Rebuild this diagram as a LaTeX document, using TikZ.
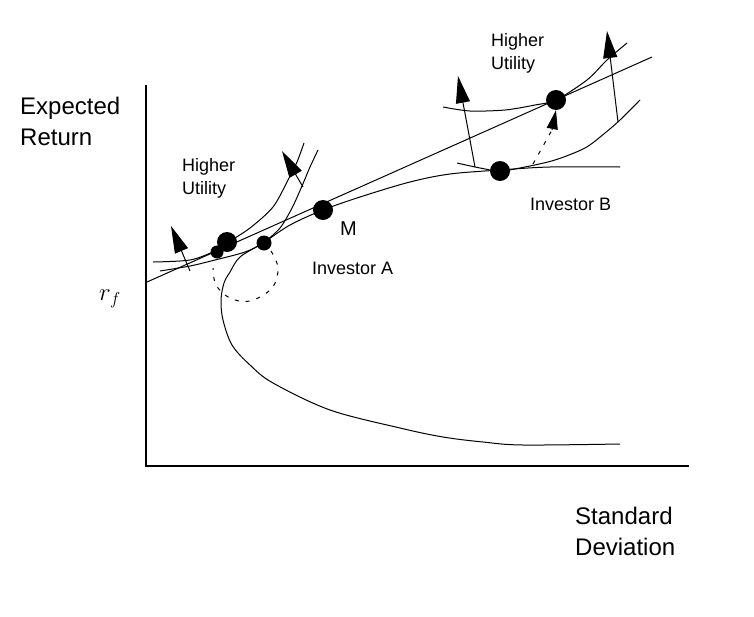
\documentclass[tikz,border=0pt]{standalone}
\usepackage{fontspec}
\setmainfont{Liberation Sans}
\usetikzlibrary{arrows.meta}

\begin{document}
\begin{tikzpicture}[x=1pt, y=-1pt,
  curve/.style={line width=1pt, line join=round},
  axis/.style={line width=2pt},
  bigdot/.style={circle, fill=black, inner sep=0pt, minimum size=20pt},
  meddot/.style={circle, fill=black, inner sep=0pt, minimum size=15pt},
  smalldot/.style={circle, fill=black, inner sep=0pt, minimum size=13pt},
  utilarrow/.style={line width=1pt, -{Triangle[length=27pt, width=14pt]}},
  lbl/.style={inner sep=0pt, anchor=north west, align=left}]
  \path[use as bounding box, fill=white] (0,0) rectangle (754,616);

  % Axes
  \coordinate (ytop) at (146,85);
  \coordinate (orig) at (146,466);
  \coordinate (xend) at (689,466);
  \draw[axis] (ytop) -- (orig) -- (xend);
  \node[lbl, font=\fontsize{24}{31}\selectfont] (ylab) at (20,97) {Expected\\Return};
  \node[lbl, font=\fontsize{24}{31}\selectfont] (xlab) at (575,507) {Standard\\Deviation};
  \node[font=\fontsize{27}{27}\selectfont] (rflab) at (110,299) {$r_f$};

  % Capital market line
  \coordinate (rf) at (147,282);
  \coordinate (cmlend) at (652,57);
  \draw[curve] (rf) -- (cmlend);

  % Efficient frontier
  \draw[curve] plot[smooth, tension=0.55] coordinates {
    (620,444) (523,445) (483,442) (443,437) (400,428) (330,410) (273,383)
    (250,365) (232,345) (223,320) (221,300) (224,283) (230,272) (240,257)
    (263,243) (290,225) (323,210) (360,197) (410,182) (450,174) (500,170)
    (550,167) (620,167)};

  % Investor A
  \draw[curve] plot[smooth, tension=0.5] coordinates {
    (153,262) (190,260) (215,251) (227,243) (250,228) (273,207) (288,180)
    (297,162) (304,143)};
  \draw[curve] plot[smooth, tension=0.5] coordinates {
    (160,271) (190,266) (215,260) (245,252) (263,243) (280,228) (292,208)
    (302,186) (310,167) (318,150)};
  \node[bigdot] (A) at (227,242) {};
  \node[smalldot] (A0) at (217,252) {};
  \node[meddot] (FA) at (264,243) {};
  \draw[curve, dash pattern=on 4pt off 7pt] plot[smooth, tension=0.6] coordinates {
    (271,251) (278,268) (272,288) (250,301) (230,298) (216,285) (213,268)};
  \coordinate (a1base) at (190,271);
  \coordinate (a1tip) at (171,226);
  \coordinate (a2base) at (303,187);
  \coordinate (a2tip) at (282,151);
  \draw[utilarrow] (a1base) -- (a1tip);
  \draw[utilarrow] (a2base) -- (a2tip);
  \node[lbl, font=\fontsize{18}{23}\selectfont] (hua) at (182,158) {Higher\\Utility};
  \node[lbl, font=\fontsize{18}{18}\selectfont] (ia) at (312,262) {Investor A};

  % Market portfolio
  \node[bigdot] (M) at (323,210) {};
  \node[lbl, font=\fontsize{20}{20}\selectfont] (mlab) at (340,222) {M};

  % Investor B
  \draw[curve] plot[smooth, tension=0.5] coordinates {
    (443,107) (470,111) (505,110) (535,105) (556,100) (587,80) (607,60) (627,43)};
  \draw[curve] plot[smooth, tension=0.5] coordinates {
    (457,163) (480,168) (500,171) (525,167) (555,160) (585,148) (605,133)
    (620,120) (640,100)};
  \node[bigdot] (B) at (500,171) {};
  \node[bigdot] (BT) at (556,100) {};
  \coordinate (b1base) at (475,167);
  \coordinate (b1tip) at (458,76);
  \coordinate (b2base) at (618,122);
  \coordinate (b2tip) at (607,31);
  \coordinate (b3base) at (533,164);
  \coordinate (b3mid) at (552,130);
  \draw[utilarrow] (b1base) -- (b1tip);
  \draw[utilarrow] (b2base) -- (b2tip);
  \draw[curve, dash pattern=on 4pt off 7pt] (b3base) -- (b3mid);
  \draw[line width=1pt, -{Triangle[length=19pt, width=11pt]}] (b3mid) -- (BT.south);
  \node[lbl, font=\fontsize{18}{23}\selectfont] (hub) at (491,33) {Higher\\Utility};
  \node[lbl, font=\fontsize{18}{18}\selectfont] (ib) at (530,198) {Investor B};
\end{tikzpicture}
\end{document}
